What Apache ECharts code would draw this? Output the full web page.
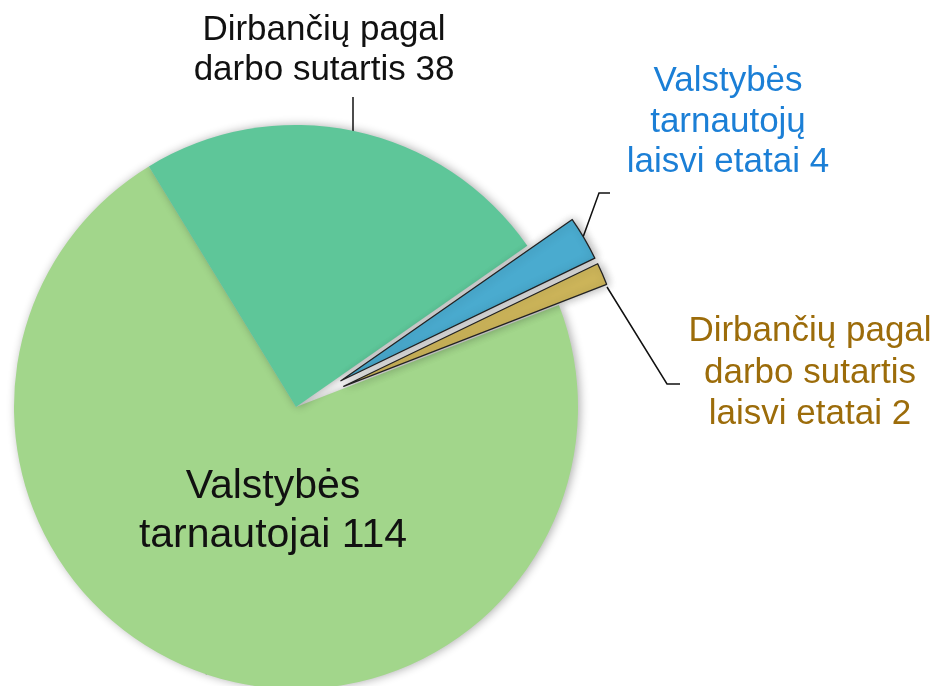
<!DOCTYPE html>
<html>
<head>
<meta charset="utf-8">
<script src="https://cdn.jsdelivr.net/npm/echarts@6/dist/echarts.min.js"></script>
<style>
  html, body { margin: 0; padding: 0; background: #fff; }
  #main { width: 937px; height: 686px; }
</style>
</head>
<body>
<div id="main"></div>
<script>
// duomenys
var names = ['Valstybės tarnautojai', 'Dirbančių pagal darbo sutartis', 'Valstybės tarnautojų laisvi etatai', 'Dirbančių pagal darbo sutartis laisvi etatai'];
var labels = ['Valstybės\ntarnautojai', 'Dirbančių pagal\ndarbo sutartis', 'Valstybės\ntarnautojų\nlaisvi etatai', 'Dirbančių pagal\ndarbo sutartis\nlaisvi etatai'];
var values = [114, 38, 4, 2];
var exploded = [false, false, true, true];

var colors = ['#a2d68b', '#5ec699', '#4aabcf', '#cdb55a'];
var labelColors = ['#111', '#111', '#1b7fd6', '#9c6c0a'];
var labelSizes = [41, 35, 35, 35];
var labelLineHeights = [49, 40, 40.5, 41.5];

var CX = 296, CY = 407, R = 282, START = 21.2;

var myChart = echarts.init(document.getElementById('main'));

// 1 serija - sektoriai
var sliceData = values.map(function (v, i) {
    return {
        name: names[i],
        value: v,
        selected: exploded[i],
        itemStyle: exploded[i] ? { borderColor: '#222', borderWidth: 1.3 } : {}
    };
});

// 2 serija - tik užrašai (nematomi sektoriai)
var labelData = values.map(function (v, i) {
    return {
        name: names[i],
        value: v,
        label: { color: labelColors[i], fontSize: labelSizes[i], lineHeight: labelLineHeights[i] }
    };
});

var option = {
    animation: false,
    series: [{
        type: 'pie',
        center: [CX, CY],
        radius: R,
        startAngle: START,
        clockwise: true,
        selectedMode: 'multiple',
        selectedOffset: 52,
        color: colors,
        itemStyle: {
            shadowBlur: 10,
            shadowOffsetX: 2,
            shadowColor: 'rgba(0,0,0,0.32)'
        },
        emphasis: { disabled: true },
        label: { show: false },
        labelLine: { show: false },
        data: sliceData
    }, {
        type: 'pie',
        center: [CX, CY],
        radius: R,
        startAngle: START,
        clockwise: true,
        silent: true,
        itemStyle: { color: 'rgba(0,0,0,0)' },
        emphasis: { disabled: true },
        label: {
            show: true,
            position: 'outside',
            overflow: 'none',
            fontFamily: 'Liberation Sans, Arial, sans-serif',
            align: 'center',
            formatter: function (p) {
                return labels[p.dataIndex] + ' ' + p.value;
            }
        },
        labelLine: {
            show: true,
            length: 20,
            length2: 10,
            lineStyle: { color: '#111', width: 1.5 }
        },
        labelLayout: function (p) {
            var i = p.dataIndex;
            if (i === 0) {
                return { x: CX - 23, y: CY + 104, align: 'center', verticalAlign: 'middle' };
            }
            if (i === 1) {
                return { x: CX + 28, y: 50, align: 'center', verticalAlign: 'middle',
                    labelLinePoints: [[353, 134], [353, 97]] };
            }
            if (i === 2) {
                return { x: 728, y: 122, align: 'center', verticalAlign: 'middle',
                    labelLinePoints: [[582, 240], [599, 193], [610, 193]] };
            }
            return { x: 810, y: 373, align: 'center', verticalAlign: 'middle',
                labelLinePoints: [[607, 287], [667, 384], [680, 384]] };
        },
        data: labelData
    }]
};

myChart.setOption(option);
</script>
</body>
</html>
